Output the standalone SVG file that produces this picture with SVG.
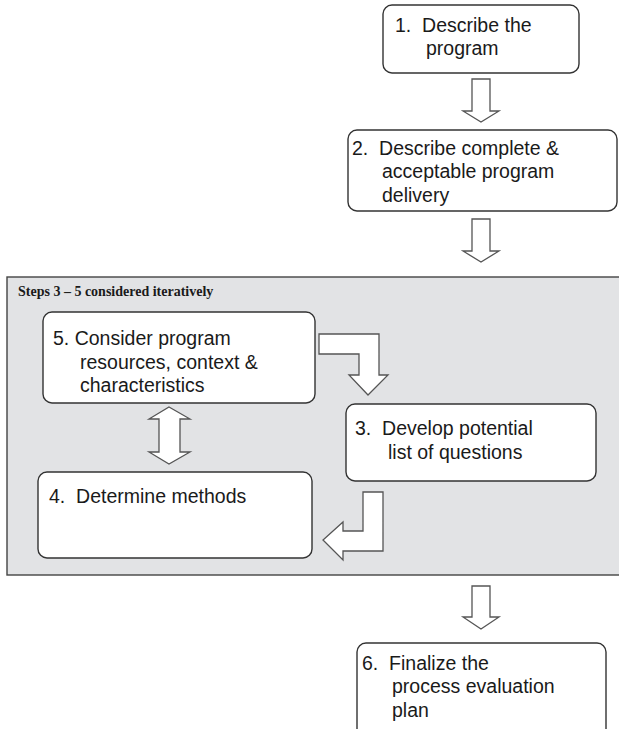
<svg xmlns="http://www.w3.org/2000/svg" width="619" height="729" viewBox="0 0 619 729">
<style>
.box{fill:#fff;stroke:#333;stroke-width:1.4}
.arr{fill:#fff;stroke:#555;stroke-width:1.3;stroke-linejoin:miter}
.t{font-family:"Liberation Sans",Arial,sans-serif;font-size:19.5px;fill:#1a1a1a;white-space:pre}
.lbl{font-family:"Liberation Serif","Times New Roman",serif;font-size:14px;font-weight:bold;fill:#1a1a1a}
</style>
<rect width="619" height="729" fill="#fff"/>
<g id="region">
<rect x="7" y="277" width="620" height="298" fill="#e2e3e5" stroke="#444" stroke-width="1.4"/>
<text class="lbl" x="18" y="296">Steps 3 – 5 considered iteratively</text>
</g>
<g id="node1">
<rect class="box" x="383" y="5" width="196" height="68" rx="9"/>
<text class="t" x="395" y="32" xml:space="preserve">1.  Describe the</text>
<text class="t" x="426" y="55">program</text>
</g>
<g id="node2">
<rect class="box" x="348" y="130" width="269" height="81" rx="9"/>
<text class="t" x="352" y="155" xml:space="preserve">2.  Describe complete &amp;</text>
<text class="t" x="382" y="178">acceptable program</text>
<text class="t" x="382" y="202">delivery</text>
</g>
<g id="node5">
<rect class="box" x="43" y="312" width="272" height="91" rx="9"/>
<text class="t" x="53" y="345">5. Consider program</text>
<text class="t" x="80" y="369">resources, context &amp;</text>
<text class="t" x="80" y="392">characteristics</text>
</g>
<g id="node3">
<rect class="box" x="346" y="404" width="250" height="77" rx="9"/>
<text class="t" x="355" y="435" xml:space="preserve">3.  Develop potential</text>
<text class="t" x="388" y="459">list of questions</text>
</g>
<g id="node4">
<rect class="box" x="38" y="472" width="274" height="86" rx="9"/>
<text class="t" x="49" y="503" xml:space="preserve">4.  Determine methods</text>
</g>
<g id="node6">
<rect class="box" x="357" y="643" width="249" height="100" rx="9"/>
<text class="t" x="362" y="670" xml:space="preserve">6.  Finalize the</text>
<text class="t" x="392" y="693">process evaluation</text>
<text class="t" x="392" y="717">plan</text>
</g>
<g id="connectors">
<path class="arr" d="M472,79 H490 V111 H499 L481,122 L463,111 H472 Z"/>
<path class="arr" d="M472,219 H490 V251 H499 L481,262 L463,251 H472 Z"/>
<path class="arr" d="M319,334 H379 V375 H388 L368,395 L349,375 H359 V354 H319 Z"/>
<path class="arr" d="M169,407 L190,419 H180 V452 H190 L169,464 L149,452 H159 V419 H149 Z"/>
<path class="arr" d="M363,492 H383 V551 H343 V560 L323,540 L343,522 V531 H363 Z"/>
<path class="arr" d="M472,586 H490 V617 H499 L481,629 L463,617 H472 Z"/>
</g>
</svg>
